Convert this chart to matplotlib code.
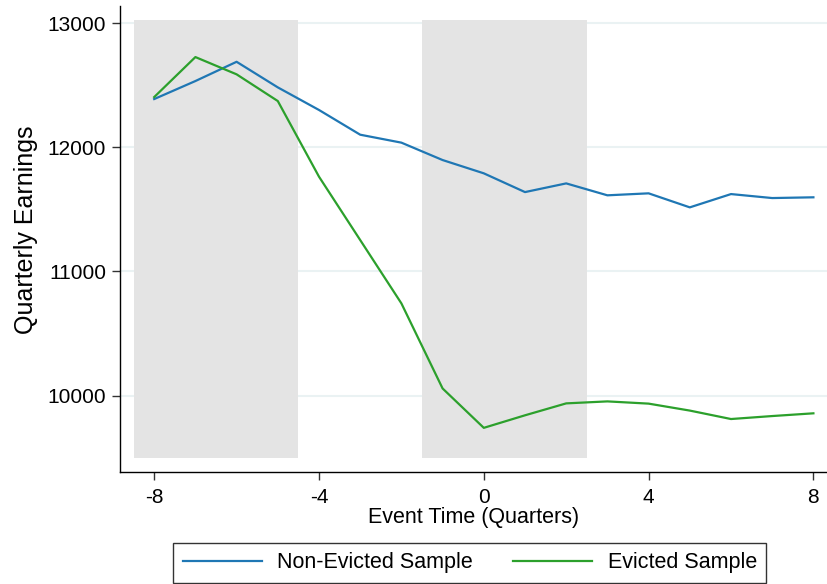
import matplotlib
matplotlib.use("Agg")
import matplotlib.pyplot as plt

plt.rcParams['font.family'] = ['Liberation Sans', 'DejaVu Sans']

quarters = [-8, -7, -6, -5, -4, -3, -2, -1, 0, 1, 2, 3, 4, 5, 6, 7, 8]
non_evicted = [12388, 12533, 12688, 12482, 12300, 12101, 12037, 11897, 11790,
               11639, 11709, 11613, 11629, 11516, 11623, 11591, 11597]
evicted = [12404, 12726, 12587, 12372, 11763, 11253, 10743, 10058, 9741,
           9842, 9938, 9954, 9936, 9880, 9812, 9836, 9858]
shade_spans = [(-8.5, -4.5), (-1.5, 2.5)]
shade_y = (9500, 13025)
yticks = [10000, 11000, 12000, 13000]
xticks = [-8, -4, 0, 4, 8]

fig = plt.figure(figsize=(8.27, 5.84), dpi=100)
ax = fig.add_axes([0.1451, 0.1923, 0.8549, 0.7974])

for y in yticks:
    ax.axhline(y, color='#eaf2f3', lw=1.5, zorder=0)
for x0, x1 in shade_spans:
    ax.fill_between([x0, x1], shade_y[0], shade_y[1], color='#e4e4e4', lw=0, zorder=1)

ax.plot(quarters, non_evicted, color='#1f77b4', lw=1.6, label='Non-Evicted Sample', zorder=3)
ax.plot(quarters, evicted, color='#2ca02c', lw=1.6, label='Evicted Sample', zorder=3)

ax.set_xlim(-8.83, 8.33)
ax.set_ylim(9388, 13137)
ax.set_xticks(xticks)
ax.set_xticklabels([str(v) for v in xticks])
ax.set_yticks(yticks)
ax.set_yticklabels([str(v) for v in yticks])
ax.tick_params(axis='both', labelsize=15, length=6, width=1, color='#333333')
ax.tick_params(axis='x', pad=6)
ax.tick_params(axis='y', pad=4)
for s in ['top', 'right']:
    ax.spines[s].set_visible(False)
for s in ['left', 'bottom']:
    ax.spines[s].set_linewidth(1)
    ax.spines[s].set_color('black')

ax.set_xlabel('Event Time (Quarters)', fontsize=15.5, labelpad=0)
ax.set_ylabel('Quarterly Earnings', fontsize=18)
ax.yaxis.set_label_coords(-0.116, 0.519)

leg = fig.legend(loc='center', bbox_to_anchor=(0.568, 0.036), ncol=2, fontsize=15.5,
                 handlelength=3.7, columnspacing=1.84, frameon=True, fancybox=False,
                 edgecolor='black', borderpad=0.45, handletextpad=0.7)
leg.get_frame().set_linewidth(1)

fig.savefig('out.png', dpi=100)
